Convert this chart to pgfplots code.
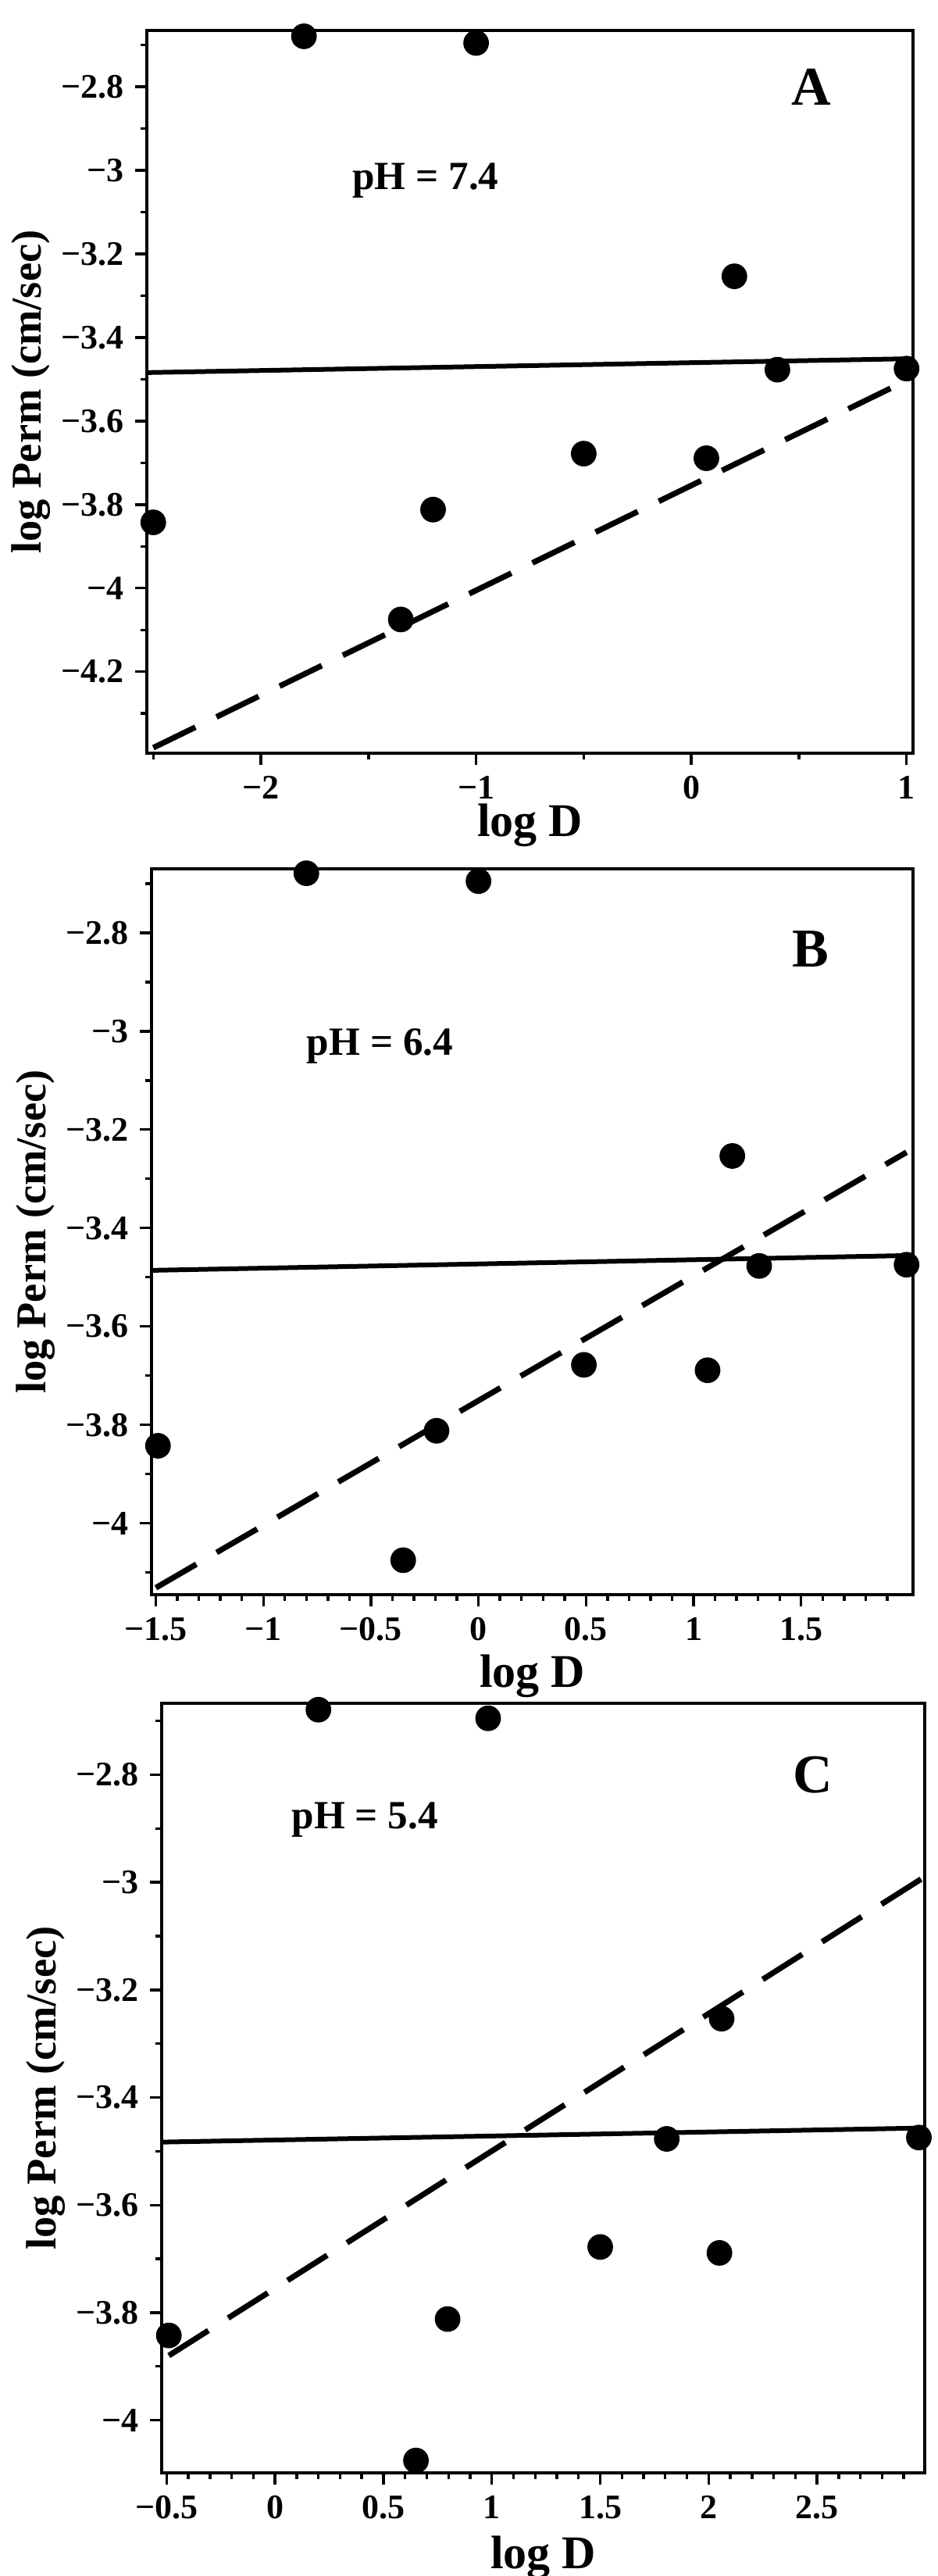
\documentclass[border=0pt]{standalone}
\usepackage{fontspec}
\setmainfont{Liberation Serif}
\usepackage{pgfplots}
\pgfplotsset{compat=1.18}

\pgfplotsset{
  panel/.style={
    scale only axis, clip=false,
    axis line style={line width=0.85pt},
    tick align=outside,
    xtick pos=bottom, ytick pos=left,
    major tick length=3.75pt, minor tick length=2pt,
    every tick/.style={line width=0.85pt, black},
    ticklabel style={font=\fontsize{11}{12}\selectfont\bfseries},
    every axis y label/.style={at={([xshift=-37pt]axis description cs:0,0.5)}, anchor=center, rotate=90,
      font=\fontsize{13.6}{15}\selectfont\bfseries},
    ylabel={log Perm (cm/sec)},
    xlabel={log D},
  },
  pts/.style={only marks, mark=*, mark size=3.9pt, black},
  solidfit/.style={black, line width=1.5pt, no marks},
  dashfit/.style={black, line width=1.8pt, no marks, dash pattern=on 15pt off 7.5pt},
}

\begin{document}
\begin{tikzpicture}
\useasboundingbox (0,0) rectangle (300pt,824.25pt);

% ---------------- Panel A ----------------
\begin{axis}[panel,
  at={(47pt,583.25pt)}, anchor=south west,
  width=245.25pt, height=231.25pt,
  xmin=-2.53, xmax=1.03, ymin=-4.395, ymax=-2.665,
  xtick={-2,-1,0,1}, xticklabels={−2,−1,0,1},
  minor xtick={-2.5,-1.5,-0.5,0.5},
  ytick={-4.2,-4,-3.8,-3.6,-3.4,-3.2,-3,-2.8},
  yticklabels={−4.2,−4,−3.8,−3.6,−3.4,−3.2,−3,−2.8},
  minor ytick={-4.3,-4.1,-3.9,-3.7,-3.5,-3.3,-3.1,-2.9,-2.7},
  every axis x label/.style={at={([yshift=-23pt]axis description cs:0.5,0)}, anchor=center,
      font=\fontsize{15}{16}\selectfont\bfseries},
]
\addplot[solidfit] coordinates {(-2.53,-3.484) (0.995,-3.451)};
\addplot[dashfit] coordinates {(-2.5,-4.382) (1.0,-3.503)};
\addplot[pts] coordinates {
  (-2.5,-3.8425) (-1.8,-2.679) (-1.35,-4.075) (-1.2,-3.812) (-1.0,-2.695)
  (-0.5,-3.678) (0.07,-3.689) (0.2,-3.2535) (0.4,-3.477) (1.0,-3.4745)};
\node[font=\fontsize{17.5}{19}\selectfont\bfseries] at (axis cs:0.557,-2.8) {A};
\node[font=\fontsize{12.8}{14}\selectfont\bfseries] at (axis cs:-1.235,-3.025) {pH = 7.4};
\end{axis}

% ---------------- Panel B ----------------
\begin{axis}[panel,
  at={(48.5pt,314pt)}, anchor=south west,
  width=243.75pt, height=232.25pt,
  xmin=-1.52, xmax=2.02, ymin=-4.145, ymax=-2.670,
  xtick={-1.5,-1,-0.5,0,0.5,1,1.5}, xticklabels={−1.5,−1,−0.5,0,0.5,1,1.5},
  minor xtick={-1.4,-1.3,-1.2,-1.1,-0.9,-0.8,-0.7,-0.6,-0.4,-0.3,-0.2,-0.1,0.1,0.2,0.3,0.4,0.6,0.7,0.8,0.9,1.1,1.2,1.3,1.4,1.6,1.7,1.8,1.9},
  ytick={-4,-3.8,-3.6,-3.4,-3.2,-3,-2.8},
  yticklabels={−4,−3.8,−3.6,−3.4,−3.2,−3,−2.8},
  minor ytick={-4.1,-3.9,-3.7,-3.5,-3.3,-3.1,-2.9,-2.7},
  every axis x label/.style={at={([yshift=-26pt]axis description cs:0.5,0)}, anchor=center,
      font=\fontsize{15}{16}\selectfont\bfseries},
]
\addplot[solidfit] coordinates {(-1.52,-3.486) (1.98,-3.456)};
\addplot[dashfit] coordinates {(-1.5,-4.131) (1.99,-3.246)};
\addplot[pts] coordinates {
  (-1.49,-3.8425) (-0.8,-2.679) (-0.35,-4.075) (-0.195,-3.812) (0.0,-2.695)
  (0.49,-3.678) (1.065,-3.689) (1.18,-3.2535) (1.305,-3.477) (1.99,-3.4745)};
\node[font=\fontsize{17.5}{19}\selectfont\bfseries] at (axis cs:1.542,-2.833) {B};
\node[font=\fontsize{12.8}{14}\selectfont\bfseries] at (axis cs:-0.458,-3.03) {pH = 6.4};
\end{axis}

% ---------------- Panel C ----------------
\begin{axis}[panel,
  at={(51.75pt,33pt)}, anchor=south west,
  width=244.25pt, height=246.25pt,
  xmin=-0.523, xmax=2.997, ymin=-4.098, ymax=-2.667,
  xtick={-0.5,0,0.5,1,1.5,2,2.5}, xticklabels={−0.5,0,0.5,1,1.5,2,2.5},
  minor xtick={-0.4,-0.3,-0.2,-0.1,0.1,0.2,0.3,0.4,0.6,0.7,0.8,0.9,1.1,1.2,1.3,1.4,1.6,1.7,1.8,1.9,2.1,2.2,2.3,2.4,2.6,2.7,2.8,2.9},
  ytick={-4,-3.8,-3.6,-3.4,-3.2,-3,-2.8},
  yticklabels={−4,−3.8,−3.6,−3.4,−3.2,−3,−2.8},
  minor ytick={-3.9,-3.7,-3.5,-3.3,-3.1,-2.9,-2.7},
  every axis x label/.style={at={([yshift=-27pt]axis description cs:0.5,0)}, anchor=center,
      font=\fontsize{15}{16}\selectfont\bfseries},
]
\addplot[solidfit] coordinates {(-0.523,-3.483) (2.96,-3.457)};
\addplot[dashfit] coordinates {(-0.49,-3.880) (2.98,-2.994)};
\addplot[pts] coordinates {
  (-0.49,-3.8425) (0.2,-2.679) (0.65,-4.075) (0.796,-3.812) (0.983,-2.695)
  (1.5,-3.678) (2.05,-3.689) (2.06,-3.2535) (1.807,-3.477) (2.97,-3.4745)};
\node[font=\fontsize{17.5}{19}\selectfont\bfseries] at (axis cs:2.48,-2.8) {C};
\node[font=\fontsize{12.8}{14}\selectfont\bfseries] at (axis cs:0.414,-2.883) {pH = 5.4};
\end{axis}
\end{tikzpicture}
\end{document}
